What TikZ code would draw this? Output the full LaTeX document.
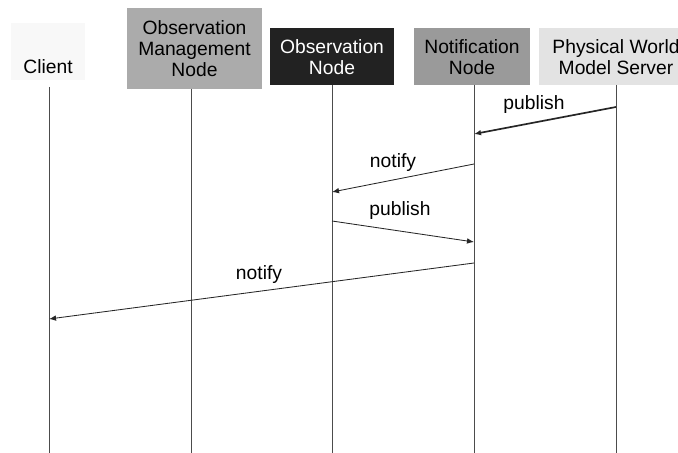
\documentclass[tikz,border=0pt]{standalone}
\usepackage{fontspec}
\setmainfont{Liberation Sans}
\usetikzlibrary{arrows.meta,positioning,calc}
\definecolor{clientfill}{HTML}{F8F8F8}
\definecolor{omnfill}{HTML}{ABABAB}
\definecolor{onfill}{HTML}{222222}
\definecolor{nnfill}{HTML}{9A9A9A}
\definecolor{pwfill}{HTML}{E3E3E3}
\newcommand{\unitpx}{0.025cm}
\tikzset{
  hdr/.style={inner sep=0, align=center, font=\fontsize{13.7}{15.2}\selectfont},
  lifeline/.style={draw=black!70, line width=0.6pt},
  msg/.style={draw=black!85, line width=0.6pt, -{Latex[length=5pt,width=4pt]}},
  msglbl/.style={inner sep=0, font=\fontsize{13.7}{15.2}\selectfont}
}

\begin{document}
\begin{tikzpicture}[x=0.025cm,y=-0.025cm]
  \useasboundingbox (0,0) rectangle (678,453);
  % header boxes
  \node[hdr,fill=clientfill,minimum width=74*\unitpx,minimum height=57*\unitpx] (client) at (48,51.5) {};
  \node[hdr] (clientlbl) at (48,67) {Client};
  \node[hdr,fill=omnfill,minimum width=135*\unitpx,minimum height=81*\unitpx] (omn) at (194.5,48.5) {Observation\\Management\\Node};
  \node[hdr,fill=onfill,text=white,minimum width=124*\unitpx,minimum height=57*\unitpx] (on) at (332,57) {Observation\\Node};
  \node[hdr,fill=nnfill,minimum width=116*\unitpx,minimum height=57*\unitpx] (nn) at (472,57) {Notification\\Node};
  \node[hdr,fill=pwfill,minimum width=154*\unitpx,minimum height=57*\unitpx] (pw) at (616,57) {Physical World\\Model Server};
  % life lines
  \foreach \n/\x/\y in {client/49/87,omn/191/89,on/332/85,nn/474/85,pw/616/85} {
    \coordinate (\n top) at (\x,\y);
    \coordinate (\n bot) at (\x,453);
    \draw[lifeline] (\n top) -- (\n bot);
  }
  % messages
  \coordinate (pw1) at (616,107);
  \coordinate (nn1) at (474,134);
  \coordinate (nn2) at (474,164);
  \coordinate (on2) at (332,192);
  \coordinate (on3) at (332,221);
  \coordinate (nn3) at (474,242);
  \coordinate (nn4) at (474,263);
  \coordinate (client4) at (49,319);
  \draw[msg,line width=1.2pt] (pw1) -- (nn1);
  \draw[msg] (nn2) -- (on2);
  \draw[msg] (on3) -- (nn3);
  \draw[msg] (nn4) -- (client4);
  \node[msglbl] (lbl1) at (534,105) {publish};
  \node[msglbl] (lbl2) at (393,163) {notify};
  \node[msglbl] (lbl3) at (400,211) {publish};
  \node[msglbl] (lbl4) at (259,275) {notify};
\end{tikzpicture}
\end{document}
